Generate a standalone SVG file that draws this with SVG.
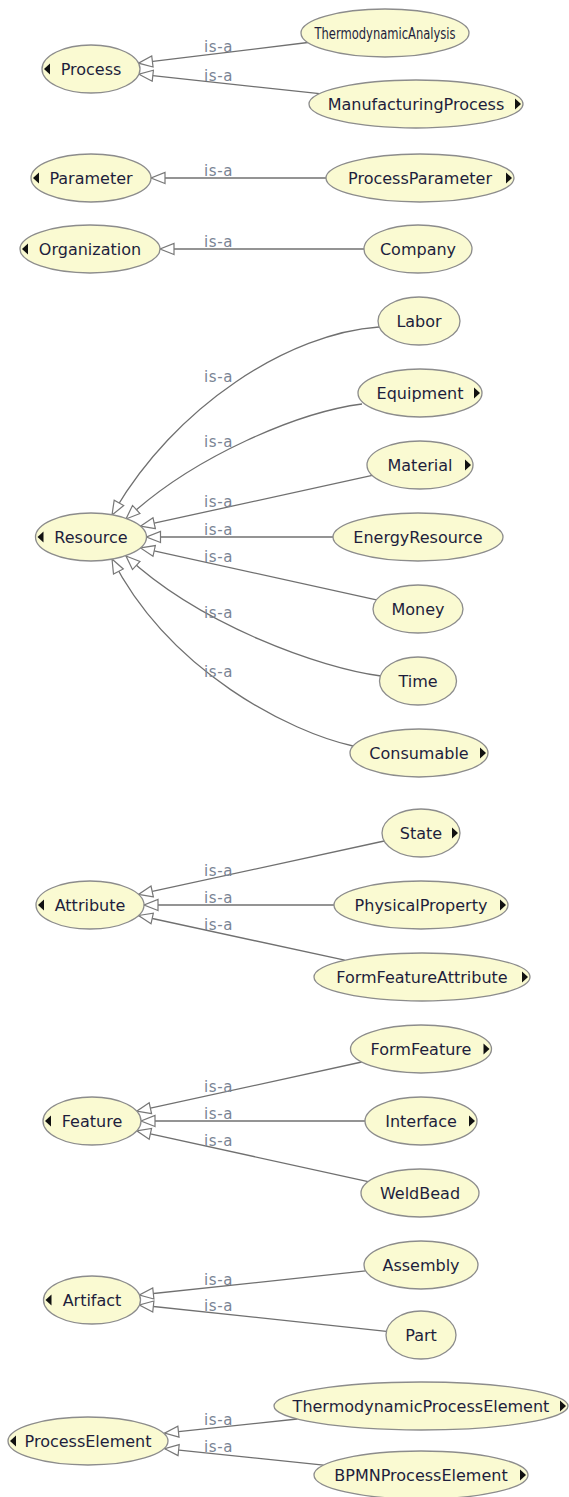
<svg xmlns="http://www.w3.org/2000/svg" width="569" height="1497" viewBox="0 0 569 1497">
  <defs>
    <style>
      .node ellipse { fill: #fafad2; stroke: #8c8c8c; stroke-width: 1.3; }
      .node text { font-family: "DejaVu Sans", "Liberation Sans", sans-serif; font-size: 16px; fill: #1e1e3c; text-anchor: middle; }
      .node path { fill: #111; }
      .edge { fill: none; stroke: #707070; stroke-width: 1.3; marker-end: url(#isa); }
      .lbl { font-family: "DejaVu Sans", "Liberation Sans", sans-serif; font-size: 15px; fill: #7a8494; letter-spacing: 0.6px; }
    </style>
    <!-- hollow triangle for is-a (subclass) links -->
    <marker id="isa" viewBox="0 0 16 14" refX="15" refY="7" markerWidth="16" markerHeight="14" markerUnits="userSpaceOnUse" orient="auto">
      <path d="M1,1.5 L15,7 L1,12.5 Z" fill="#fff" stroke="#777" stroke-width="1.2"/>
    </marker>
  </defs>
  <rect width="569" height="1497" fill="#fff"/>

  <!-- connectors -->
  <g id="connectors">
    <path class="edge" d="M307.8,42.5 L138.5,63.2"/>
    <path class="edge" d="M319.5,93.6 L138.9,74.2"/>
    <path class="edge" d="M326,178 L151,178"/>
    <path class="edge" d="M364,249 L160,249"/>
    <path class="edge" d="M379,327 C290,333 175,405 112,515"/>
    <path class="edge" d="M362,404 C300,412 195,455 126,519"/>
    <path class="edge" d="M372.3,475.4 L140.5,526.2"/>
    <path class="edge" d="M333,537 L146.5,537"/>
    <path class="edge" d="M376.4,599.8 L140.5,547.9"/>
    <path class="edge" d="M381,676 C320,668 200,625 126,556"/>
    <path class="edge" d="M353,746 C290,732 170,672 112,559"/>
    <path class="edge" d="M384.2,841 L138.5,894.4"/>
    <path class="edge" d="M334,905 L144,905"/>
    <path class="edge" d="M344.7,960.2 L138.5,915.5"/>
    <path class="edge" d="M361.7,1062 L136.7,1111.2"/>
    <path class="edge" d="M365,1121 L141,1121"/>
    <path class="edge" d="M368.1,1181.6 L136.7,1130.8"/>
    <path class="edge" d="M365.7,1270.9 L139.4,1295"/>
    <path class="edge" d="M386.4,1331.3 L139.4,1305"/>
    <path class="edge" d="M297.3,1419 L164.5,1433.1"/>
    <path class="edge" d="M323.6,1465.1 L164.7,1448.7"/>

    <text class="lbl" x="204" y="52">is-a</text>
    <text class="lbl" x="204" y="81">is-a</text>
    <text class="lbl" x="204" y="176">is-a</text>
    <text class="lbl" x="204" y="247">is-a</text>
    <text class="lbl" x="204" y="382">is-a</text>
    <text class="lbl" x="204" y="447">is-a</text>
    <text class="lbl" x="204" y="507">is-a</text>
    <text class="lbl" x="204" y="535">is-a</text>
    <text class="lbl" x="204" y="562">is-a</text>
    <text class="lbl" x="204" y="618">is-a</text>
    <text class="lbl" x="204" y="677">is-a</text>
    <text class="lbl" x="204" y="876">is-a</text>
    <text class="lbl" x="204" y="903">is-a</text>
    <text class="lbl" x="204" y="930">is-a</text>
    <text class="lbl" x="204" y="1092">is-a</text>
    <text class="lbl" x="204" y="1119">is-a</text>
    <text class="lbl" x="204" y="1146">is-a</text>
    <text class="lbl" x="204" y="1285">is-a</text>
    <text class="lbl" x="204" y="1311">is-a</text>
    <text class="lbl" x="204" y="1425">is-a</text>
    <text class="lbl" x="204" y="1452">is-a</text>
  </g>

  <!-- Process group -->
  <g id="Process" class="node">
    <ellipse cx="91" cy="69" rx="49" ry="24"/>
    <path d="M44,69 L50,63.5 L50,74.5 Z"/>
    <text x="91" y="75">Process</text>
  </g>
  <g id="ThermodynamicAnalysis" class="node">
    <ellipse cx="385" cy="33" rx="84" ry="24"/>
    <text x="385" y="39" textLength="141" lengthAdjust="spacingAndGlyphs">ThermodynamicAnalysis</text>
  </g>
  <g id="ManufacturingProcess" class="node">
    <ellipse cx="416" cy="104" rx="107" ry="24"/>
    <path d="M521,104 L515,98.5 L515,109.5 Z"/>
    <text x="416" y="110">ManufacturingProcess</text>
  </g>

  <!-- Parameter group -->
  <g id="Parameter" class="node">
    <ellipse cx="91" cy="178" rx="60" ry="24"/>
    <path d="M33,178 L39,172.5 L39,183.5 Z"/>
    <text x="91" y="184">Parameter</text>
  </g>
  <g id="ProcessParameter" class="node">
    <ellipse cx="420" cy="178" rx="94" ry="24"/>
    <path d="M512,178 L506,172.5 L506,183.5 Z"/>
    <text x="420" y="184">ProcessParameter</text>
  </g>

  <!-- Organization group -->
  <g id="Organization" class="node">
    <ellipse cx="90" cy="249" rx="70" ry="24"/>
    <path d="M22,249 L28,243.5 L28,254.5 Z"/>
    <text x="90" y="255">Organization</text>
  </g>
  <g id="Company" class="node">
    <ellipse cx="418" cy="249" rx="54" ry="24"/>
    <text x="418" y="255">Company</text>
  </g>

  <!-- Resource group -->
  <g id="Resource" class="node">
    <ellipse cx="91" cy="537" rx="55.5" ry="24"/>
    <path d="M37.5,537 L43.5,531.5 L43.5,542.5 Z"/>
    <text x="91" y="543">Resource</text>
  </g>
  <g id="Labor" class="node">
    <ellipse cx="419" cy="321" rx="41" ry="24"/>
    <text x="419" y="327">Labor</text>
  </g>
  <g id="Equipment" class="node">
    <ellipse cx="420" cy="393" rx="62" ry="24"/>
    <path d="M480,393 L474,387.5 L474,398.5 Z"/>
    <text x="420" y="399">Equipment</text>
  </g>
  <g id="Material" class="node">
    <ellipse cx="420" cy="465" rx="53" ry="24"/>
    <path d="M471,465 L465,459.5 L465,470.5 Z"/>
    <text x="420" y="471">Material</text>
  </g>
  <g id="EnergyResource" class="node">
    <ellipse cx="418" cy="537" rx="85" ry="24"/>
    <text x="418" y="543">EnergyResource</text>
  </g>
  <g id="Money" class="node">
    <ellipse cx="418" cy="609" rx="45" ry="24"/>
    <text x="418" y="615">Money</text>
  </g>
  <g id="Time" class="node">
    <ellipse cx="418" cy="681" rx="38.5" ry="24"/>
    <text x="418" y="687">Time</text>
  </g>
  <g id="Consumable" class="node">
    <ellipse cx="419" cy="753" rx="69" ry="24"/>
    <path d="M486,753 L480,747.5 L480,758.5 Z"/>
    <text x="419" y="759">Consumable</text>
  </g>

  <!-- Attribute group -->
  <g id="Attribute" class="node">
    <ellipse cx="90" cy="905" rx="54" ry="24"/>
    <path d="M38,905 L44,899.5 L44,910.5 Z"/>
    <text x="90" y="911">Attribute</text>
  </g>
  <g id="State" class="node">
    <ellipse cx="421" cy="833" rx="39" ry="24"/>
    <path d="M458,833 L452,827.5 L452,838.5 Z"/>
    <text x="421" y="839">State</text>
  </g>
  <g id="PhysicalProperty" class="node">
    <ellipse cx="421" cy="905" rx="87" ry="24"/>
    <path d="M506,905 L500,899.5 L500,910.5 Z"/>
    <text x="421" y="911">PhysicalProperty</text>
  </g>
  <g id="FormFeatureAttribute" class="node">
    <ellipse cx="422" cy="977" rx="108" ry="24"/>
    <path d="M528,977 L522,971.5 L522,982.5 Z"/>
    <text x="422" y="983">FormFeatureAttribute</text>
  </g>

  <!-- Feature group -->
  <g id="Feature" class="node">
    <ellipse cx="92" cy="1121" rx="49" ry="24"/>
    <path d="M45,1121 L51,1115.5 L51,1126.5 Z"/>
    <text x="92" y="1127">Feature</text>
  </g>
  <g id="FormFeature" class="node">
    <ellipse cx="421" cy="1049" rx="70.5" ry="24"/>
    <path d="M489.5,1049 L483.5,1043.5 L483.5,1054.5 Z"/>
    <text x="421" y="1055">FormFeature</text>
  </g>
  <g id="Interface" class="node">
    <ellipse cx="421" cy="1121" rx="56" ry="24"/>
    <path d="M475,1121 L469,1115.5 L469,1126.5 Z"/>
    <text x="421" y="1127">Interface</text>
  </g>
  <g id="WeldBead" class="node">
    <ellipse cx="420" cy="1193" rx="59" ry="24"/>
    <text x="420" y="1199">WeldBead</text>
  </g>

  <!-- Artifact group -->
  <g id="Artifact" class="node">
    <ellipse cx="92" cy="1300" rx="48.5" ry="24"/>
    <path d="M45.5,1300 L51.5,1294.5 L51.5,1305.5 Z"/>
    <text x="92" y="1306">Artifact</text>
  </g>
  <g id="Assembly" class="node">
    <ellipse cx="421" cy="1265" rx="57" ry="24"/>
    <text x="421" y="1271">Assembly</text>
  </g>
  <g id="Part" class="node">
    <ellipse cx="421" cy="1335" rx="35" ry="24"/>
    <text x="421" y="1341">Part</text>
  </g>

  <!-- ProcessElement group -->
  <g id="ProcessElement" class="node">
    <ellipse cx="88" cy="1441" rx="80" ry="24"/>
    <path d="M10,1441 L16,1435.5 L16,1446.5 Z"/>
    <text x="88" y="1447">ProcessElement</text>
  </g>
  <g id="ThermodynamicProcessElement" class="node">
    <ellipse cx="421" cy="1406" rx="147" ry="24"/>
    <path d="M566,1406 L560,1400.5 L560,1411.5 Z"/>
    <text x="421" y="1412">ThermodynamicProcessElement</text>
  </g>
  <g id="BPMNProcessElement" class="node">
    <ellipse cx="421" cy="1475" rx="107" ry="24"/>
    <path d="M526,1475 L520,1469.5 L520,1480.5 Z"/>
    <text x="421" y="1481">BPMNProcessElement</text>
  </g>
</svg>
